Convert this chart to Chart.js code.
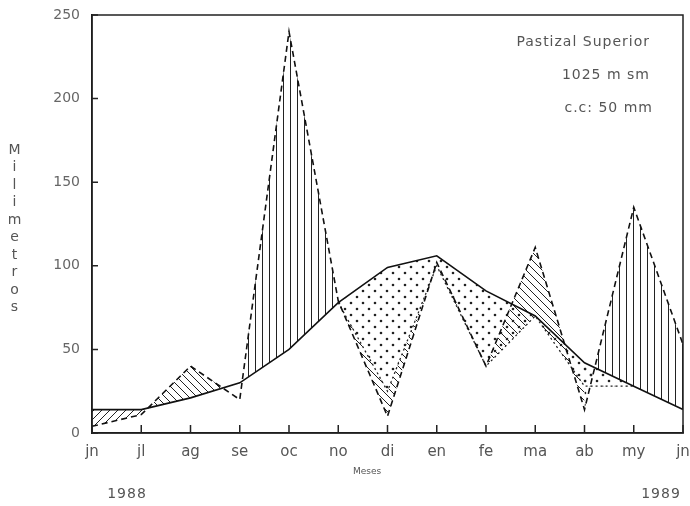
<!DOCTYPE html>
<html>
<head>
<meta charset="utf-8">
<script src="https://cdn.jsdelivr.net/npm/chart.js@4/dist/chart.umd.min.js"></script>
<style>
  html, body { margin: 0; padding: 0; background: #fff; }
  #wrap { width: 690px; height: 506px; }
</style>
</head>
<body>
<div id="wrap"><canvas id="balance"></canvas></div>
<script>
const meses = ["jn", "jl", "ag", "se", "oc", "no", "di", "en", "fe", "ma", "ab", "my", "jn"]
// precipitacion (linea discontinua)
const precip = [4, 11, 40, 20, 240, 79, 10, 102, 40, 111, 14, 135, 53]
// evapotranspiracion potencial (linea continua)
const etp = [14, 14, 21, 30, 50, 78, 99, 106, 85, 70, 42, 28, 14]
// evapotranspiracion real (linea punteada)
const etr = [null, null, null, null, null, 78, 25, 100, 40, 70, 28, 28, null]
// tramos de precipitacion usados solo para los rellenos
const precipRecarga = [null, 11, 40, 20, null, null, null, null, 40, 111, 14, null, null]
const precipExceso = [null, null, null, 20, 240, 79, null, null, null, null, 14, 135, 53]
const precipUso = [null, null, null, null, null, 79, 10, 102, 40, 111, 14, null, null]
const precipInicio = [4, 11, 40, null, null, null, null, null, null, null, null, null, null]
const yTicks = [0, 50, 100, 150, 200, 250]

function makePattern(kind) {
  const c = document.createElement("canvas")
  const s = kind === "dots" ? 12 : (kind === "vert" ? 7 : 8)
  c.width = s; c.height = s
  const g = c.getContext("2d")
  g.strokeStyle = "#222"; g.fillStyle = "#222"; g.lineWidth = 1
  g.beginPath()
  if (kind === "vert") {
    g.moveTo(3.5, 0); g.lineTo(3.5, s)
  } else if (kind === "back") {
    g.moveTo(0, 0); g.lineTo(s, s)
    g.moveTo(-1, s - 1); g.lineTo(1, s + 1)
    g.moveTo(s - 1, -1); g.lineTo(s + 1, 1)
  } else if (kind === "slash") {
    g.moveTo(0, s); g.lineTo(s, 0)
    g.moveTo(-1, 1); g.lineTo(1, -1)
    g.moveTo(s - 1, s + 1); g.lineTo(s + 1, s - 1)
  }
  g.stroke()
  if (kind === "dots") {
    g.beginPath(); g.arc(3, 3, 1.3, 0, Math.PI * 2); g.fill()
    g.beginPath(); g.arc(9, 9, 1.3, 0, Math.PI * 2); g.fill()
  }
  return g.createPattern(c, "repeat")
}

const pVert = makePattern("vert")
const pBack = makePattern("back")
const pSlash = makePattern("slash")
const pDots = makePattern("dots")

const labelFont = "14px 'DejaVu Sans'"

const extras = {
  id: "extras",
  afterDraw(chart) {
    const ctx = chart.ctx
    const a = chart.chartArea
    const y = chart.scales.y
    const x = chart.scales.x
    ctx.save()
    // marco
    ctx.strokeStyle = "#222"
    ctx.lineWidth = 1.5
    ctx.strokeRect(a.left, a.top, a.right - a.left, a.bottom - a.top)
    // marcas hacia dentro
    ctx.beginPath()
    yTicks.forEach(v => {
      const py = y.getPixelForValue(v)
      ctx.moveTo(a.left, py); ctx.lineTo(a.left + 6, py)
    })
    meses.forEach((m, i) => {
      const px = x.getPixelForValue(i)
      ctx.moveTo(px, a.bottom); ctx.lineTo(px, a.bottom - 8)
    })
    ctx.stroke()
    // textos
    ctx.fillStyle = "#555"
    ctx.font = labelFont
    ctx.letterSpacing = "1px"
    ctx.textAlign = "right"
    ctx.textBaseline = "middle"
    ctx.fillText("Pastizal Superior", 650, 42)
    ctx.fillText("1025 m sm", 650, 75)
    ctx.fillText("c.c: 50 mm", 653, 108)
    ctx.textAlign = "center"
    const titulo = "Milimetros"
    for (let i = 0; i < titulo.length; i++) {
      ctx.fillText(titulo[i], 15, 150 + i * 17.5)
    }
    ctx.fillText("1988", 127, 494)
    ctx.fillText("1989", 661, 494)
    ctx.letterSpacing = "0px"
    ctx.font = "9px 'DejaVu Sans'"
    ctx.fillText("Meses", 367, 472)
    ctx.restore()
  }
}

const fillLine = { borderWidth: 0, pointRadius: 0, order: 5 }

new Chart(document.getElementById("balance"), {
  type: "line",
  data: {
    labels: meses,
    datasets: [
      { label: "ETP", data: etp, borderColor: "#111", borderWidth: 1.6, pointRadius: 0, fill: false, order: 0 },
      { label: "P", data: precip, borderColor: "#111", borderWidth: 1.6, borderDash: [6, 4], pointRadius: 0, fill: false, order: 0 },
      { label: "ETR", data: etr, borderColor: "#222", borderWidth: 1.3, borderDash: [2, 3], pointRadius: 0, order: 1,
        fill: { target: 0, above: "rgba(0,0,0,0)", below: pDots } },
      Object.assign({ label: "recarga", data: precipRecarga,
        fill: { target: 0, above: pBack, below: "rgba(0,0,0,0)" } }, fillLine),
      Object.assign({ label: "exceso", data: precipExceso,
        fill: { target: 0, above: pVert, below: pDots } }, fillLine),
      Object.assign({ label: "uso", data: precipUso,
        fill: { target: 2, above: pBack, below: pBack } }, fillLine),
      Object.assign({ label: "inicio", data: precipInicio,
        fill: { target: 0, above: "rgba(0,0,0,0)", below: pSlash } }, fillLine)
    ]
  },
  options: {
    responsive: true,
    maintainAspectRatio: false,
    animation: false,
    layout: { padding: { top: 15, right: 7, left: 0, bottom: 0 } },
    plugins: { legend: { display: false }, tooltip: { enabled: false } },
    scales: {
      x: {
        grid: { display: false, drawTicks: false },
        border: { display: true, color: "#111", width: 1.5 },
        ticks: { color: "#555", font: { family: "DejaVu Sans", size: 15 }, padding: 10, maxRotation: 0, autoSkip: false },
        afterFit(s) { s.height = 73; s.paddingLeft = 0; s.paddingRight = 0 }
      },
      y: {
        min: 0, max: 250,
        grid: { display: false, drawTicks: false },
        border: { display: true, color: "#111", width: 1.5 },
        ticks: { stepSize: 50, color: "#666", font: { family: "DejaVu Sans", size: 14 }, padding: 12 },
        afterFit(s) { s.width = 92; s.paddingTop = 0; s.paddingBottom = 0 }
      }
    }
  },
  plugins: [extras]
})
</script>
</body>
</html>
